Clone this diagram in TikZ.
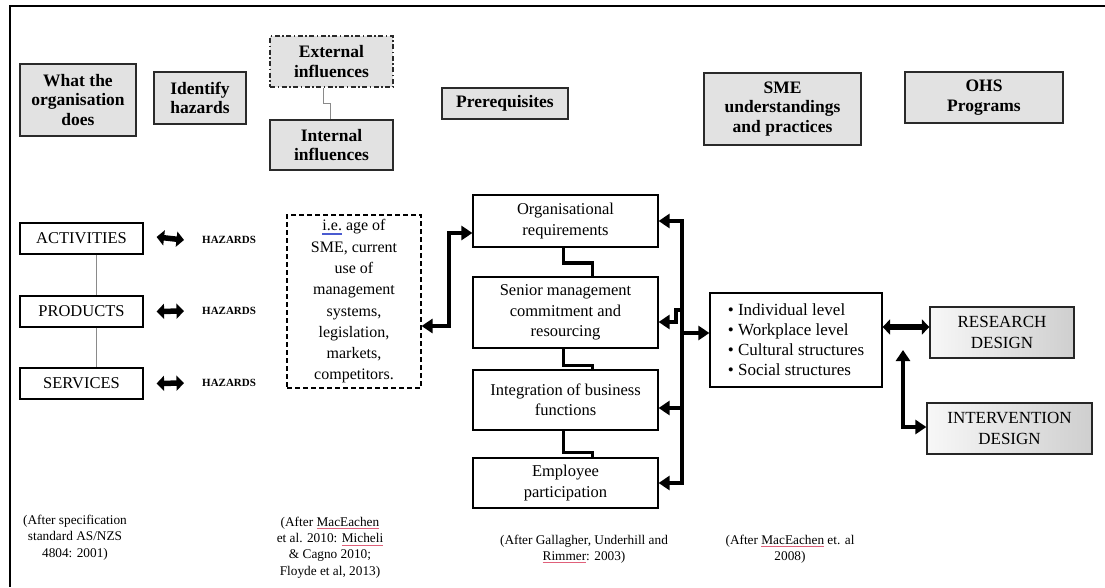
\documentclass[tikz,border=0pt]{standalone}
\usepackage{fontspec}
\setmainfont{Liberation Serif}
\usetikzlibrary{arrows.meta,calc}

\definecolor{hdrfill}{HTML}{E2E2E2}
\definecolor{hdrline}{HTML}{2A2A2A}
\definecolor{linkgray}{HTML}{8A8A8A}
\definecolor{spellred}{HTML}{E0607A}
\definecolor{spellblue}{HTML}{4A5BD0}

% spell-check style underlines
\newcommand\redmark[1]{\begingroup\setbox0\hbox{#1}\rlap{\color{spellred}\rule[-2.6pt]{\wd0}{0.7pt}}\box0\endgroup}
\newcommand\bluemark[1]{\begingroup\setbox0\hbox{#1}\rlap{\color{spellblue}\rule[-2.4pt]{\wd0}{0.6pt}}\rlap{\color{spellblue}\rule[-4pt]{\wd0}{0.6pt}}\box0\endgroup}

\tikzset{
  x=1pt, y=-1pt,
  hdr/.style={draw=hdrline, line width=1.4pt, fill=hdrfill, align=center, inner sep=2pt,
    font=\bfseries\fontsize{17.5}{19.8}\selectfont},
  plainbox/.style={draw=black, line width=1.2pt, fill=white, align=center, inner sep=2pt,
    font=\fontsize{16.5}{20.5}\selectfont},
  designbox/.style={draw=black!85, line width=1.3pt, left color=gray!6, right color=gray!38,
    align=center, inner sep=2pt, font=\fontsize{17}{21}\selectfont},
  hz/.style={inner sep=0pt, font=\bfseries\fontsize{11}{13}\selectfont},
  cite/.style={align=center, inner sep=0pt, font=\fontsize{13.3}{16.3}\selectfont},
  thinlink/.style={draw=linkgray, line width=0.9pt},
  steplink/.style={draw=black, line width=3.4pt},
  bus/.style={draw=black, line width=3.6pt},
  tip/.tip={Triangle[length=11pt,width=14pt]},
  fattip/.tip={Triangle[length=7.5pt,width=15pt]},
  fat/.style={draw=black, line width=5.5pt, fattip-fattip},
}

\begin{document}
\begin{tikzpicture}
\useasboundingbox (0,0) rectangle (1105,587);

% frame lines along the top and left edges
\draw[line width=2.2pt] (1105,6) -- (10,6) -- (10,587);

% column headings
\node[hdr, minimum width=116, minimum height=72] (what) at (78,100) {What the\\organisation\\does};
\node[hdr, minimum width=92, minimum height=52] (ident) at (200,98) {Identify\\hazards};
\node[hdr, minimum width=123, minimum height=51, dash pattern=on 5pt off 2.5pt on 1.5pt off 2.5pt] (ext) at (331.5,61.5) {External\\influences};
\node[hdr, minimum width=123, minimum height=50] (int) at (331.5,145) {Internal\\influences};
\node[hdr, minimum width=126, minimum height=31] (prereq) at (505,103.5) {Prerequisites};
\node[hdr, minimum width=157, minimum height=72] (sme) at (782.5,109) {SME\\understandings\\and practices};
\node[hdr, minimum width=158, minimum height=51] (ohs) at (984,97.5) {OHS\\Programs};

\draw[thinlink] ([xshift=-8pt]ext.south) -- ++(0,16) -| ([xshift=-1pt]int.north);

% what the organisation does
\node[plainbox, minimum width=123, minimum height=31] (act) at (81.5,238.5) {ACTIVITIES};
\node[plainbox, minimum width=123, minimum height=31] (prod) at (81.5,311.5) {PRODUCTS};
\node[plainbox, minimum width=123, minimum height=31] (serv) at (81.5,383.5) {SERVICES};
\draw[thinlink] ([xshift=15pt]act.south) -- ([xshift=15pt]prod.north);
\draw[thinlink] ([xshift=15pt]prod.south) -- ([xshift=15pt]serv.north);

\node[hz, anchor=west] (hz1) at (202,240) {HAZARDS};
\node[hz, anchor=west] (hz2) at (202,311) {HAZARDS};
\node[hz, anchor=west] (hz3) at (202,383) {HAZARDS};
\draw[fat] ([xshift=13pt,yshift=1.5pt]act.east) -- ([xshift=-18pt]hz1.west);
\draw[fat] ([xshift=13pt]prod.east) -- ([xshift=-18pt]hz2.west);
\draw[fat] ([xshift=13pt]serv.east) -- ([xshift=-18pt]hz3.west);

% internal influences detail
\node[plainbox, dash pattern=on 5pt off 3pt, line width=1.1pt, minimum width=134, minimum height=173,
      font=\fontsize{16}{21.3}\selectfont] (dash) at (354,301.5)
  {\bluemark{i.e.} age of\\SME, current\\use of\\management\\systems,\\legislation,\\markets,\\competitors.};

% prerequisites
\node[plainbox, minimum width=185, minimum height=52] (org) at (565.5,221) {Organisational\\requirements};
\node[plainbox, minimum width=185, minimum height=71] (senior) at (565.5,312.5) {Senior management\\commitment and\\resourcing};
\node[plainbox, minimum width=185, minimum height=60] (integ) at (565.5,400) {Integration of business\\functions};
\node[plainbox, minimum width=185, minimum height=50] (emp) at (565.5,483) {Employee\\participation};

\draw[steplink] ([xshift=-2pt]org.south) -- ++(0,15.5) -| ([xshift=27pt]senior.north);
\draw[steplink] ([xshift=-2pt]senior.south) -- ++(0,17) -| ([xshift=27pt]integ.north);
\draw[steplink] ([xshift=-2pt]integ.south) -- ++(0,22) -| ([xshift=27pt]emp.north);

\draw[bus, tip-tip] ($(dash.east)+(0,24.5)$) -| (449,233) -- ($(org.west)+(0,12)$);

% right-hand bus
\coordinate (bt) at (682,221);
\coordinate (bb) at (682,483);
\draw[bus, tip-tip, line join=miter] (org.east) -- (bt) -- (bb) -- (emp.east);
\draw[bus, -tip] (682,310) -| (676,322) -- ($(senior.east)+(0,9.5)$);
\draw[bus, -tip] (682,408) -- ($(integ.east)+(0,8)$);

% SME understandings
\node[plainbox, align=left, minimum width=172, minimum height=94, inner sep=4pt,
      font=\fontsize{17}{20}\selectfont] (list) at (796,340)
  {\textbullet\ Individual level\\\textbullet\ Workplace level\\\textbullet\ Cultural structures\\\textbullet\ Social structures};
\draw[bus, -tip] (682,333) -- ($(list.west)+(0,-7)$);

% OHS programs
\node[designbox, minimum width=144, minimum height=51] (research) at (1002,332.5) {RESEARCH\\DESIGN};
\node[designbox, minimum width=165, minimum height=51] (interv) at (1009.5,428.5) {INTERVENTION\\DESIGN};
\draw[draw=black, line width=5.5pt, fattip-fattip] ($(list.east)+(0,-13)$) -- ($(research.west)+(0,-5.5)$);
\coordinate (up) at (903,350);
\draw[bus, tip-tip] (up) |- ($(interv.west)+(0,-1.5)$);

% sources
\node[cite] (c1) at (75,537.5) {(After specification\\standard AS/NZS\\4804: 2001)};
\node[cite] (c2) at (330,547.5) {(After \redmark{MacEachen}\\et al. 2010: \redmark{Micheli}\\\& Cagno 2010;\\Floyde et al, 2013)};
\node[cite] (c3) at (584,549) {(After Gallagher, Underhill and\\\redmark{Rimmer}: 2003)};
\node[cite] (c4) at (790,549) {(After \redmark{MacEachen} et. al\\2008)};
\end{tikzpicture}
\end{document}
